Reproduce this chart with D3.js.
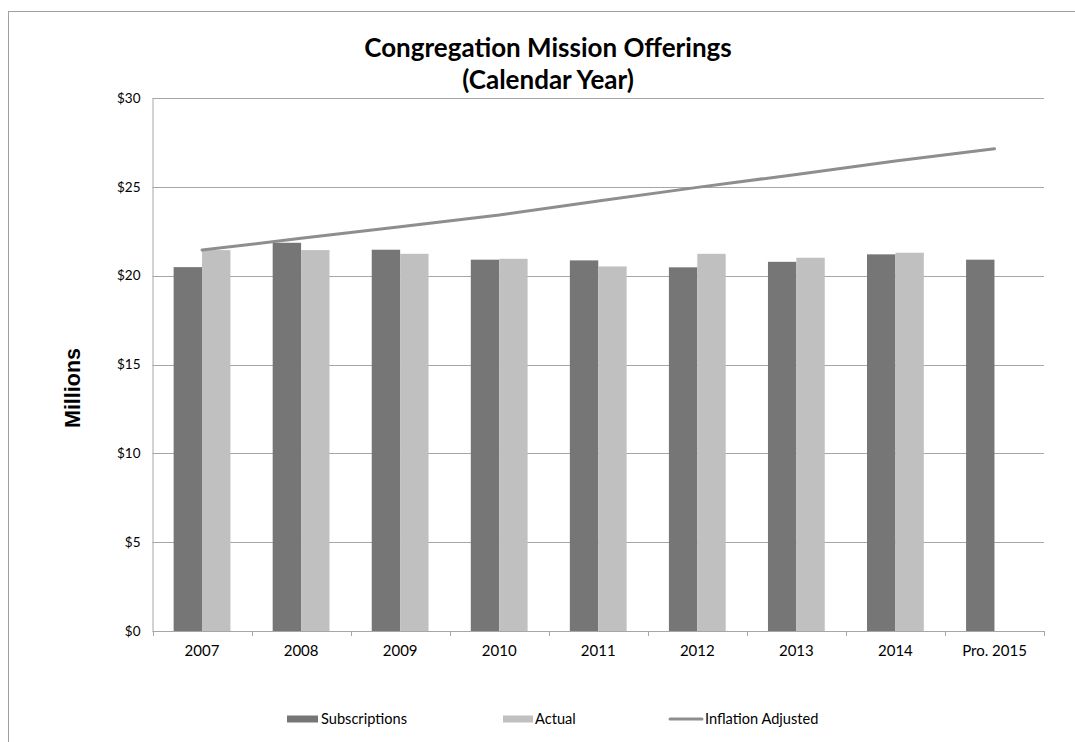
<!DOCTYPE html>
<html>
<head>
<meta charset="utf-8">
<script src="https://cdn.jsdelivr.net/npm/d3@7"></script>
<style>
  html, body { margin: 0; padding: 0; background: #fff; }
  svg { display: block; }
  text { font-family: Lato, "Open Sans", sans-serif; fill: #000; }
</style>
</head>
<body>
<svg id="chart" width="1075" height="742"></svg>
<script>
const categories = ["2007", "2008", "2009", "2010", "2011", "2012", "2013", "2014", "Pro. 2015"];
const subscriptions = [20.48, 21.85, 21.46, 20.90, 20.86, 20.47, 20.78, 21.20, 20.90];
const actual = [21.44, 21.44, 21.23, 20.95, 20.52, 21.23, 21.01, 21.29, null];
const inflationAdjusted = [21.44, 22.10, 22.75, 23.41, 24.20, 24.97, 25.70, 26.45, 27.14];
const yTicks = [0, 5, 10, 15, 20, 25, 30];
const seriesNames = ["Subscriptions", "Actual", "Inflation Adjusted"];
const colors = { sub: "#767676", act: "#c0c0c0", line: "#8e8e8e", grid: "#a6a6a6" };

const svg = d3.select("#chart");

// outer frame
svg.append("rect").attr("x", 8.5).attr("y", 11.5).attr("width", 1100).attr("height", 800)
  .attr("fill", "none").attr("stroke", "#a0a0a0").attr("stroke-width", 1);

const plot = { left: 152.5, right: 1044, top: 98, bottom: 631 };

const x = d3.scaleBand().domain(categories).range([plot.left, plot.right]).paddingInner(0).paddingOuter(0);
const y = d3.scaleLinear().domain([0, 30]).range([plot.bottom, plot.top]);

const barW = 28.4;

// gridlines
svg.append("g").selectAll("line").data(yTicks.filter(d => d > 0)).join("line")
  .attr("x1", plot.left).attr("x2", plot.right)
  .attr("y1", d => Math.round(y(d)) + 0.5).attr("y2", d => Math.round(y(d)) + 0.5)
  .attr("stroke", colors.grid).attr("stroke-width", 1);

// y axis
const yAxis = d3.axisLeft(y).tickValues(yTicks).tickFormat(d => "$" + d).tickSize(0).tickPadding(12);
const gy = svg.append("g").attr("transform", `translate(${plot.left},0)`).call(yAxis);
gy.select(".domain").attr("stroke", colors.grid);
gy.selectAll("text").style("font-size", "13.5px").style("font-family", "Lato, sans-serif");

// x axis
const xAxis = d3.axisBottom(x).tickSize(0).tickPadding(14);
const gx = svg.append("g").attr("transform", `translate(0,${plot.bottom})`).call(xAxis);
gx.select(".domain").attr("stroke", colors.grid);
gx.selectAll("text").style("font-size", "15px").style("font-family", "Lato, sans-serif");
// category boundary ticks
const bounds = categories.map(c => x(c)).concat([plot.right]);
svg.append("g").selectAll("line").data(bounds).join("line")
  .attr("x1", d => Math.round(d) + 0.5).attr("x2", d => Math.round(d) + 0.5)
  .attr("y1", plot.bottom).attr("y2", plot.bottom + 5)
  .attr("stroke", colors.grid);

// bars
const center = c => x(c) + x.bandwidth() / 2;
svg.append("g").selectAll("rect").data(categories).join("rect")
  .attr("x", c => center(c) - barW).attr("width", barW)
  .attr("y", (c, i) => y(subscriptions[i]))
  .attr("height", (c, i) => y(0) - y(subscriptions[i]))
  .attr("fill", colors.sub);
svg.append("g").selectAll("rect").data(categories.filter((c, i) => actual[i] != null)).join("rect")
  .attr("x", c => center(c)).attr("width", barW)
  .attr("y", c => y(actual[categories.indexOf(c)]))
  .attr("height", c => y(0) - y(actual[categories.indexOf(c)]))
  .attr("fill", colors.act);

// redraw baseline over bars
svg.append("line").attr("x1", plot.left).attr("x2", plot.right)
  .attr("y1", plot.bottom + 0.5).attr("y2", plot.bottom + 0.5).attr("stroke", colors.grid);

// inflation line
const line = d3.line().x((d, i) => center(categories[i])).y(d => y(d));
svg.append("path").datum(inflationAdjusted).attr("d", line)
  .attr("fill", "none").attr("stroke", colors.line).attr("stroke-width", 3).attr("stroke-linecap", "round");

// title
const title = svg.append("text").attr("x", 548).attr("text-anchor", "middle")
  .style("font-size", "26px").style("font-weight", "bold");
title.append("tspan").attr("x", 548).attr("y", 57).text("Congregation Mission Offerings");
title.append("tspan").attr("x", 548).attr("y", 89).text("(Calendar Year)");

// y axis title
svg.append("text").attr("transform", "translate(80,388) rotate(-90)")
  .attr("text-anchor", "middle")
  .style("font-family", "'Liberation Sans', Arial, sans-serif")
  .style("font-size", "21.5px").style("font-weight", "bold").text("Millions");

// legend
const legend = svg.append("g");
const legY = 719;
legend.append("rect").attr("x", 287).attr("y", legY - 3.5).attr("width", 31).attr("height", 7).attr("fill", colors.sub);
legend.append("text").attr("x", 321).attr("y", legY + 5).style("font-size", "14.6px").text(seriesNames[0]);
legend.append("rect").attr("x", 503).attr("y", legY - 3.5).attr("width", 30).attr("height", 7).attr("fill", colors.act);
legend.append("text").attr("x", 535).attr("y", legY + 5).style("font-size", "14.6px").text(seriesNames[1]);
legend.append("line").attr("x1", 670).attr("x2", 702).attr("y1", legY).attr("y2", legY)
  .attr("stroke", colors.line).attr("stroke-width", 3).attr("stroke-linecap", "round");
legend.append("text").attr("x", 705).attr("y", legY + 5).style("font-size", "14.6px").text(seriesNames[2]);
</script>
</body>
</html>
